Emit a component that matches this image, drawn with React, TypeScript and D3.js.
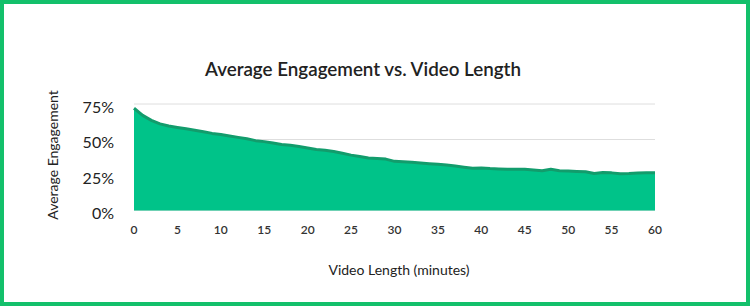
import React, { useEffect, useRef } from "react";
import * as d3 from "d3";

// Average engagement (%) by video length, one value per minute (0–60)
const minutes: number[] = d3.range(0, 61);
const engagement: number[] = [
  72, 67, 63.5, 61, 59.5, 58.5, 57.5, 56.5, 55.5, 54.3,
  53.5, 52.5, 51.5, 50.5, 49.2, 48.5, 47.5, 46.5, 46, 45,
  44, 43, 42.5, 41.5, 40.3, 39, 38, 37, 36.6, 36.2,
  34.6, 34.4, 34, 33.5, 33, 32.5, 32, 31.3, 30.5, 29.8,
  30, 29.5, 29.2, 29, 29, 29, 28.5, 28, 29, 28,
  27.8, 27.5, 27.3, 26, 26.8, 26.5, 25.8, 26, 26.4, 26.6, 26.6,
];
const xTicks: number[] = [0, 5, 10, 15, 20, 25, 30, 35, 40, 45, 50, 55, 60];
const yTicks: number[] = [0, 25, 50, 75];

const title = "Average Engagement vs. Video Length";
const xTitle = "Video Length (minutes)";
const yTitle = "Average Engagement";

const W = 750;
const H = 306;
const margin = { left: 134, right: 95, top: 104, bottom: 95.5 };

export default function App() {
  const ref = useRef<SVGSVGElement | null>(null);

  useEffect(() => {
    const svg = d3.select(ref.current);
    svg.selectAll("*").remove();

    const font = "Lato, 'Open Sans', sans-serif";
    const ink = "#222";

    const x = d3.scaleLinear().domain([0, 60]).range([margin.left, W - margin.right]);
    const y = d3.scaleLinear().domain([0, 75]).range([H - margin.bottom, margin.top]);

    svg.append("rect").attr("width", W).attr("height", H).attr("fill", "#fff");

    // Frame
    svg
      .append("rect")
      .attr("x", 2)
      .attr("y", 2)
      .attr("width", W - 4)
      .attr("height", H - 4)
      .attr("fill", "none")
      .attr("stroke", "#13c06b")
      .attr("stroke-width", 4);

    // Title
    svg
      .append("text")
      .attr("x", 363)
      .attr("y", 76)
      .attr("text-anchor", "middle")
      .attr("font-family", font)
      .attr("font-size", 18.8)
      .attr("font-weight", 600)
      .attr("fill", ink)
      .text(title);

    // Gridlines
    svg
      .append("g")
      .selectAll("line")
      .data(yTicks)
      .join("line")
      .attr("x1", x(0))
      .attr("x2", x(60))
      .attr("y1", (d) => y(d))
      .attr("y2", (d) => y(d))
      .attr("stroke", "#dedede")
      .attr("stroke-width", 1);

    const data = minutes.map((m, i) => ({ m, v: engagement[i] }));

    const area = d3
      .area<{ m: number; v: number }>()
      .x((d) => x(d.m))
      .y0(y(0))
      .y1((d) => y(d.v));
    svg.append("path").datum(data).attr("d", area).attr("fill", "#00c389");

    const line = d3
      .line<{ m: number; v: number }>()
      .x((d) => x(d.m))
      .y((d) => y(d.v));
    svg
      .append("path")
      .datum(data)
      .attr("d", line)
      .attr("fill", "none")
      .attr("stroke", "#129c6c")
      .attr("stroke-width", 3)
      .attr("stroke-linejoin", "round");

    // Y tick labels
    svg
      .append("g")
      .selectAll("text")
      .data(yTicks)
      .join("text")
      .attr("x", 114)
      .attr("y", (d) => y(d) + 3)
      .attr("dy", "0.35em")
      .attr("text-anchor", "end")
      .attr("font-family", font)
      .attr("font-size", 16)
      .attr("fill", ink)
      .text((d) => `${d}%`);

    // X tick labels
    svg
      .append("g")
      .selectAll("text")
      .data(xTicks)
      .join("text")
      .attr("x", (d) => x(d))
      .attr("y", 230)
      .attr("dy", "0.35em")
      .attr("text-anchor", "middle")
      .attr("font-family", font)
      .attr("font-size", 12)
      .attr("font-weight", 600)
      .attr("fill", "#333")
      .text((d) => String(d));

    // Axis titles
    svg
      .append("text")
      .attr("x", 399)
      .attr("y", 270)
      .attr("dy", "0.35em")
      .attr("text-anchor", "middle")
      .attr("font-family", font)
      .attr("font-size", 14)
      .attr("fill", ink)
      .text(xTitle);

    svg
      .append("text")
      .attr("transform", `translate(53,155) rotate(-90)`)
      .attr("dy", "0.35em")
      .attr("text-anchor", "middle")
      .attr("font-family", font)
      .attr("font-size", 14)
      .attr("fill", ink)
      .text(yTitle);
  }, []);

  return (
    <svg
      ref={ref}
      width={W}
      height={H}
      style={{ position: "absolute", left: 0, top: 0, display: "block" }}
    />
  );
}
